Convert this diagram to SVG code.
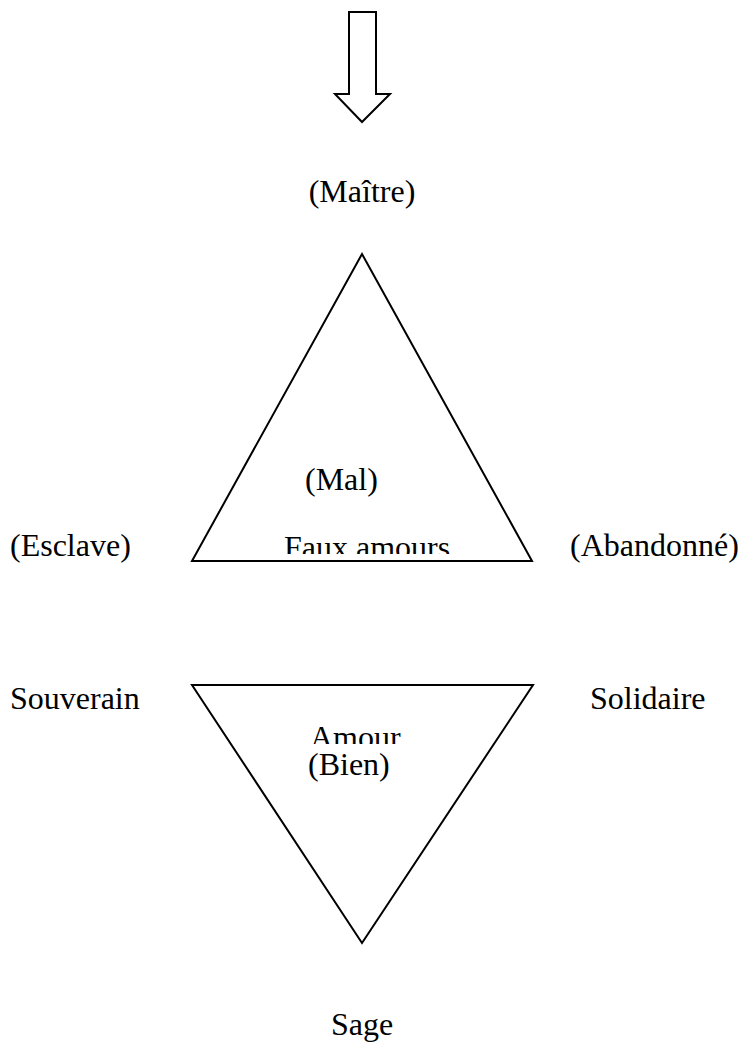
<svg xmlns="http://www.w3.org/2000/svg" width="742" height="1043" viewBox="0 0 742 1043">
<style>
.t{font-family:"Liberation Serif","Times New Roman",serif;font-size:32px;fill:#000}
.s{fill:#fff;stroke:#000;stroke-width:2;stroke-linejoin:miter}
</style>
<defs>
<clipPath id="cf"><rect x="270" y="520" width="200" height="34"/></clipPath>
<clipPath id="ca"><rect x="290" y="715" width="140" height="29"/></clipPath>
</defs>
<rect width="742" height="1043" fill="#fff"/>
<g id="arrow"><polygon class="s" points="349,12 376,12 376,94 390,94 362,122 335,94 349,94"/></g>
<g id="maitre"><text class="t" x="362" y="202" text-anchor="middle">(Maître)</text></g>
<g id="upper-triangle"><polygon class="s" points="362,254 532,561 192,561"/>
<text class="t" x="305" y="490">(Mal)</text>
<text class="t" x="284" y="558" clip-path="url(#cf)">Faux amours</text></g>
<g id="esclave"><text class="t" x="10" y="556">(Esclave)</text></g>
<g id="abandonne"><text class="t" x="570" y="556">(Abandonné)</text></g>
<g id="lower-triangle"><polygon class="s" points="192,685 533,685 362,943"/>
<text class="t" x="310" y="748" clip-path="url(#ca)">Amour</text>
<text class="t" x="308" y="775">(Bien)</text></g>
<g id="souverain"><text class="t" x="10" y="709">Souverain</text></g>
<g id="solidaire"><text class="t" x="590" y="709">Solidaire</text></g>
<g id="sage"><text class="t" x="362" y="1035" text-anchor="middle">Sage</text></g>
<g id="connectors"></g>
</svg>
